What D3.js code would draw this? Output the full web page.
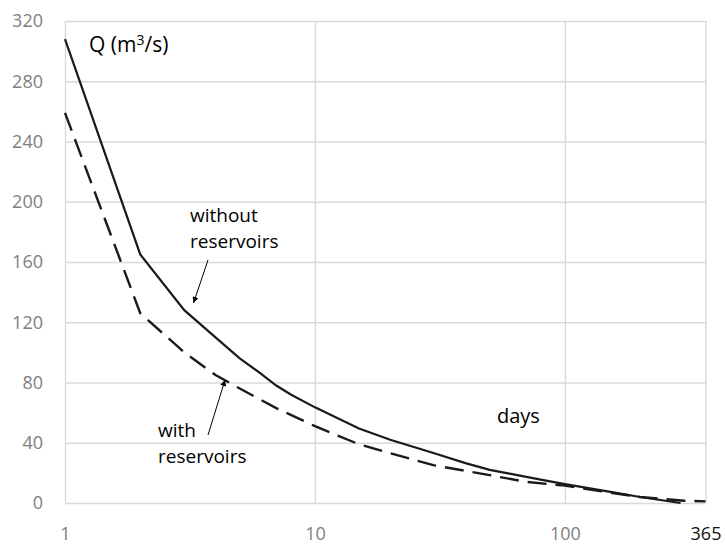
<!DOCTYPE html>
<html>
<head>
<meta charset="utf-8">
<script src="https://cdn.jsdelivr.net/npm/d3@7"></script>
<style>
  html, body { margin: 0; padding: 0; background: #fff; }
  svg { display: block; }
  text { font-family: "Open Sans", "Liberation Sans", sans-serif; }
</style>
</head>
<body>
<svg id="chart" width="725" height="545"></svg>
<script>
// ---- data ----
const daysWithout = [1, 2, 3, 4, 5, 6, 7, 8, 10, 15, 20, 30, 40, 50, 60, 80, 100, 150, 200, 290];
const qWithout    = [308, 165, 128, 110, 96, 86.5, 78, 72, 63.5, 49.5, 42, 33, 26.5, 22, 19.5, 15.5, 12.5, 7.5, 4, 0];
const daysWith    = [1, 2, 3, 4, 5, 7, 10, 15, 20, 30, 50, 70, 100, 150, 200, 300, 365];
const qWith       = [259, 126, 100, 85, 76, 63, 51, 39, 33, 25, 18.5, 14, 11.5, 7, 4, 1.5, 1.1];
const yTicks = [0, 40, 80, 120, 160, 200, 240, 280, 320];
const xTicks = [1, 10, 100, 365];
const xTickLabels = ["1", "10", "100", "365"];

// ---- layout ----
const svg = d3.select("#chart");
const mLeft = 65, mRight = 705.5, mTop = 21, mBottom = 503;
const x = d3.scaleLog().domain([1, 365]).range([mLeft, mRight]);
const y = d3.scaleLinear().domain([0, 320]).range([mBottom, mTop]);

// y axis with gridlines
const yAxis = svg.append("g")
  .attr("transform", `translate(${mLeft},0)`)
  .call(d3.axisLeft(y).tickValues(yTicks).tickSize(-(mRight - mLeft)).tickPadding(22).tickFormat(d3.format("d")));
yAxis.select(".domain").remove();
yAxis.selectAll(".tick line").attr("stroke", "#d9d9d9").attr("stroke-width", 1.4);
yAxis.selectAll(".tick text").attr("fill", "#808080").style("font-size", "18px");

// x axis with gridlines
const xAxis = svg.append("g")
  .attr("transform", `translate(0,${mBottom})`)
  .call(d3.axisBottom(x).tickValues(xTicks).tickSize(-(mBottom - mTop)).tickPadding(24)
    .tickFormat((d, i) => xTickLabels[i]));
xAxis.select(".domain").remove();
xAxis.selectAll(".tick line").attr("stroke", "#d9d9d9").attr("stroke-width", 1.4);
xAxis.selectAll(".tick text")
  .attr("fill", d => d === 365 ? "#111" : "#808080")
  .style("font-size", "18px");

// lines
const line = d3.line().x(d => x(d[0])).y(d => y(d[1]));
svg.append("path")
  .datum(daysWith.map((d, i) => [d, qWith[i]]))
  .attr("d", line).attr("fill", "none")
  .attr("stroke", "#1a1a1a").attr("stroke-width", 2.4)
  .attr("stroke-dasharray", "19,9");
svg.append("path")
  .datum(daysWithout.map((d, i) => [d, qWithout[i]]))
  .attr("d", line).attr("fill", "none")
  .attr("stroke", "#1a1a1a").attr("stroke-width", 2.2);

// arrow marker
svg.append("defs").append("marker")
  .attr("id", "ah").attr("viewBox", "0 0 10 10")
  .attr("refX", 10).attr("refY", 5)
  .attr("markerWidth", 8).attr("markerHeight", 6)
  .attr("markerUnits", "userSpaceOnUse")
  .attr("orient", "auto")
  .append("path").attr("d", "M0,0 L10,5 L0,10 z").attr("fill", "#000");

svg.append("line").attr("x1", 208).attr("y1", 260).attr("x2", 193.5).attr("y2", 303)
  .attr("stroke", "#000").attr("stroke-width", 1).attr("marker-end", "url(#ah)");
svg.append("line").attr("x1", 208).attr("y1", 435).attr("x2", 225).attr("y2", 380)
  .attr("stroke", "#000").attr("stroke-width", 1).attr("marker-end", "url(#ah)");

// annotations
const q = svg.append("text").attr("x", 89).attr("y", 52).attr("fill", "#000").style("font-size", "21px");
q.append("tspan").text("Q (m");
q.append("tspan").attr("dy", -7).style("font-size", "14px").text("3");
q.append("tspan").attr("dy", 7).text("/s)");

svg.append("text").attr("x", 190).attr("y", 222).style("font-size", "19px").text("without");
svg.append("text").attr("x", 190).attr("y", 248).style("font-size", "19px").text("reservoirs");
svg.append("text").attr("x", 158).attr("y", 437).style("font-size", "19px").text("with");
svg.append("text").attr("x", 158).attr("y", 463).style("font-size", "19px").text("reservoirs");
svg.append("text").attr("x", 497).attr("y", 423).style("font-size", "20px").text("days");
</script>
</body>
</html>
